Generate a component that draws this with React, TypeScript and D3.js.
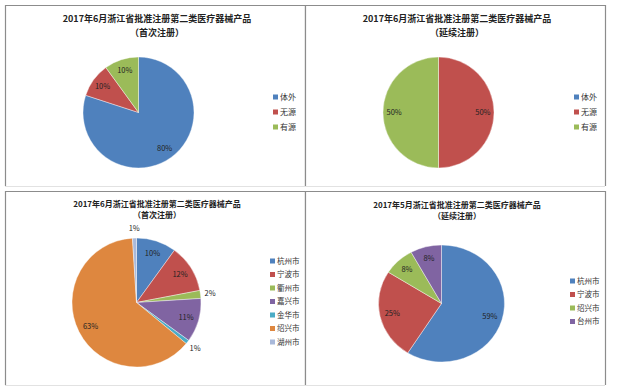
import React from "react";
import * as d3 from "d3";

// chart data
const typeNames = ["体外", "无源", "有源"];
const firstRegValues = [80, 10, 10];
const renewRegValues = [0, 50, 50];

const citiesFirst = ["杭州市", "宁波市", "衢州市", "嘉兴市", "金华市", "绍兴市", "湖州市"];
const citiesFirstValues = [10, 12, 2, 11, 1, 63, 1];

const citiesRenew = ["杭州市", "宁波市", "绍兴市", "台州市"];
const citiesRenewValues = [59, 25, 8, 8];

const titleJune = "2017年6月浙江省批准注册第二类医疗器械产品";
const titleMay = "2017年5月浙江省批准注册第二类医疗器械产品";
const subFirst = "（首次注册）";
const subRenew = "（延续注册）";

const palette = ["#4F81BD", "#C0504D", "#9BBB59", "#8064A2", "#4BACC6", "#DE873F", "#A9B9DA"];
const font = "'Noto Sans CJK SC', 'DejaVu Sans', sans-serif";

type PanelProps = {
  x0: number; y0: number; x1: number; y1: number;
  title: string; sub: string; titleSize: number; titleY: number[];
  names: string[]; values: number[];
  cx: number; cy: number; rx: number; ry: number;
  legX: number; legY: number; legStep: number; legSize: number;
};

const Panel = (p: PanelProps) => {
  const pie = d3.pie<number>().sort(null).value((d) => d);
  const arcs = pie(p.values);
  const arc = d3.arc<d3.PieArcDatum<number>>().innerRadius(0).outerRadius(p.ry);
  const sx = p.rx / p.ry;
  const total = d3.sum(p.values);
  const tx = (p.x0 + p.x1) / 2 + 2;

  return (
    <g>
      <rect x={p.x0} y={p.y0} width={p.x1 - p.x0} height={p.y1 - p.y0} fill="#fff" />
      <path
        d={`M${p.x0 + 0.5},${p.y1} V${p.y0 + 0.5} H${p.x1 + 0.5} V${p.y1}`}
        fill="none" stroke="#8c8c8c" strokeWidth={1.2}
      />
      <line x1={p.x0} x2={p.x1} y1={p.y1 + 0.5} y2={p.y1 + 0.5} stroke="#e2e2e2" />
      <text x={tx} y={p.titleY[0]} textAnchor="middle" fontSize={p.titleSize} fontWeight="bold" fill="#222" fontFamily={font}>{p.title}</text>
      <text x={tx} y={p.titleY[1]} textAnchor="middle" fontSize={p.titleSize} fontWeight="bold" fill="#222" fontFamily={font}>{p.sub}</text>
      <g transform={`translate(${p.cx},${p.cy}) scale(${sx},1)`}>
        {arcs.map((a, i) => (
          <path key={i} d={arc(a) || ""} fill={palette[i]} stroke="#fff" strokeWidth={0.4} />
        ))}
      </g>
      {arcs.map((a, i) => {
        if (a.data === 0) return null;
        const mid = (a.startAngle + a.endAngle) / 2;
        const share = a.data / total;
        const k = share < 0.03 ? 1.15 : 0.8;
        const lx = p.cx + Math.sin(mid) * p.rx * k;
        const ly = p.cy - Math.cos(mid) * p.ry * k;
        return (
          <text key={i} x={lx} y={ly} dy="0.35em" textAnchor="middle" fontSize={7.5} fill="#222" fontFamily={font}>
            {`${a.data}%`}
          </text>
        );
      })}
      {p.names.map((n, i) => (
        <g key={n} transform={`translate(${p.legX},${p.legY + i * p.legStep})`}>
          <rect x={0} y={-2.5} width={5} height={5} fill={palette[i]} />
          <text x={7} y={0} dy="0.35em" fontSize={p.legSize} fill="#333" fontFamily={font}>{n}</text>
        </g>
      ))}
    </g>
  );
};

export default function App() {
  return (
    <svg width={628} height={392} style={{ position: "absolute", left: 0, top: 0, background: "#fff" }}>
      <rect width={628} height={392} fill="#fff" />
      <Panel x0={5} y0={5} x1={305} y1={186} title={titleJune} sub={subFirst} titleSize={9} titleY={[22, 36]}
        names={typeNames} values={firstRegValues} cx={138.5} cy={112.5} rx={55.5} ry={55.5}
        legX={273} legY={97} legStep={15} legSize={8} />
      <Panel x0={305} y0={5} x1={605} y1={186} title={titleJune} sub={subRenew} titleSize={9} titleY={[22, 36]}
        names={typeNames} values={renewRegValues} cx={438.5} cy={112.5} rx={55.5} ry={55.5}
        legX={574} legY={97} legStep={15} legSize={8} />
      <Panel x0={5} y0={191} x1={305} y1={385} title={titleJune} sub={subFirst} titleSize={8} titleY={[207, 218]}
        names={citiesFirst} values={citiesFirstValues} cx={136.5} cy={302.5} rx={64.5} ry={64.5}
        legX={270} legY={261} legStep={13.5} legSize={7.5} />
      <Panel x0={305} y0={191} x1={605} y1={385} title={titleMay} sub={subRenew} titleSize={8} titleY={[207.5, 218.5]}
        names={citiesRenew} values={citiesRenewValues} cx={441.5} cy={303.5} rx={63} ry={58.5}
        legX={570} legY={281} legStep={13.5} legSize={7.5} />
    </svg>
  );
}
